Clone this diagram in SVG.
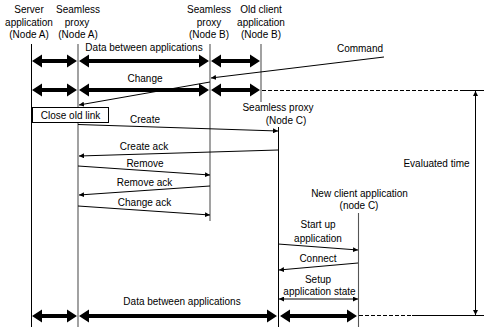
<svg xmlns="http://www.w3.org/2000/svg" width="484" height="327" viewBox="0 0 484 327">
<defs>
<style>
text{font-family:"Liberation Sans",Arial,sans-serif;font-size:10px;fill:#000;text-anchor:middle}
.ll{stroke:#000;stroke-width:1;fill:none}
.lg{stroke:#555;stroke-width:1.1;fill:none}
.msg{stroke:#000;stroke-width:1;fill:none;marker-end:url(#ah)}
.thick{fill:#000;stroke:none}
.dash{stroke:#000;stroke-width:1;stroke-dasharray:4,2;fill:none}
</style>
<marker id="ah" markerUnits="userSpaceOnUse" markerWidth="6" markerHeight="5" refX="5" refY="2.5" orient="auto-start-reverse">
<path d="M0,0 L5,2.5 L0,5 Z" fill="#000"/>
</marker>
</defs>
<rect width="484" height="327" fill="#fff"/>

<g id="server-a">
<text x="29" y="13">Server</text><text x="29" y="25.5">application</text><text x="29" y="38">(Node A)</text>
<line class="ll" x1="31.5" y1="44" x2="31.5" y2="327"/>
</g>
<g id="proxy-a">
<text x="78" y="13">Seamless</text><text x="77" y="25.5">proxy</text><text x="78" y="38">(Node A)</text>
<line class="lg" x1="78" y1="44" x2="78" y2="327"/>
</g>
<g id="proxy-b">
<text x="209" y="13">Seamless</text><text x="209" y="25.5">proxy</text><text x="209" y="38">(Node B)</text>
<line class="lg" x1="210" y1="44" x2="210" y2="221"/>
</g>
<g id="old-client-b">
<text x="261" y="13">Old client</text><text x="261" y="25.5">application</text><text x="261" y="38">(Node B)</text>
<line class="lg" x1="261" y1="44" x2="261" y2="102"/>
</g>
<g id="proxy-c">
<text x="278" y="111">Seamless proxy</text><text x="286" y="124">(Node C)</text>
<line class="ll" x1="278.5" y1="127" x2="278.5" y2="327"/>
</g>
<g id="new-client-c">
<text x="359.5" y="197">New client application</text><text x="359" y="209">(node C)</text>
<line class="lg" x1="358.5" y1="213" x2="358.5" y2="327"/>
</g>
<g id="close-old-link">
<rect x="32.5" y="107.5" width="76" height="15" fill="#fff" stroke="#000" stroke-width="1"/>
<text x="70.5" y="119">Close old link</text>
</g>
<g id="evaluated-time">
<text x="436.5" y="167">Evaluated time</text>
</g>

<g id="connectors">
<path class="thick" d="M32,61 L42,54.5 L42,59 L67,59 L67,54.5 L77,61 L67,67.5 L67,63 L42,63 L42,67.5 Z"/>
<path class="thick" d="M79,61 L89,54.5 L89,59 L199,59 L199,54.5 L209,61 L199,67.5 L199,63 L89,63 L89,67.5 Z"/>
<path class="thick" d="M211,61 L221,54.5 L221,59 L250,59 L250,54.5 L260,61 L250,67.5 L250,63 L221,63 L221,67.5 Z"/>
<path class="thick" d="M32,90 L42,83.5 L42,88 L67,88 L67,83.5 L77,90 L67,96.5 L67,92 L42,92 L42,96.5 Z"/>
<path class="thick" d="M79,90 L89,83.5 L89,88 L199,88 L199,83.5 L209,90 L199,96.5 L199,92 L89,92 L89,96.5 Z"/>
<path class="thick" d="M211,90 L221,83.5 L221,88 L250,88 L250,83.5 L260,90 L250,96.5 L250,92 L221,92 L221,96.5 Z"/>
<path class="thick" d="M32,316 L42,309.5 L42,314 L67,314 L67,309.5 L77,316 L67,322.5 L67,318 L42,318 L42,322.5 Z"/>
<path class="thick" d="M79,316 L89,309.5 L89,314 L267,314 L267,309.5 L277,316 L267,322.5 L267,318 L89,318 L89,322.5 Z"/>
<path class="thick" d="M280,316 L290,309.5 L290,314 L347,314 L347,309.5 L357,316 L347,322.5 L347,318 L290,318 L290,322.5 Z"/>
<line class="dash" x1="262" y1="90.5" x2="463" y2="90.5"/>
<line class="ll" x1="463" y1="90.5" x2="484" y2="90.5"/>
<line class="dash" x1="359" y1="315.5" x2="412" y2="315.5"/>
<line class="ll" x1="412" y1="315.5" x2="484" y2="315.5"/>
<line class="ll" x1="475.5" y1="91" x2="475.5" y2="315" marker-start="url(#ah)" marker-end="url(#ah)"/>
<text x="144" y="51">Data between applications</text>
<text x="182" y="305">Data between applications</text>

<line class="msg" x1="384" y1="57" x2="211" y2="78"/>
<text x="360" y="52">Command</text>
<line class="msg" x1="210" y1="82" x2="79" y2="105"/>
<text x="145" y="82">Change</text>
<line class="msg" x1="78" y1="124.5" x2="278" y2="131"/>
<text x="145" y="123">Create</text>
<line class="msg" x1="278" y1="150" x2="79" y2="156"/>
<text x="144" y="150">Create ack</text>
<line class="msg" x1="78" y1="166" x2="210" y2="175"/>
<text x="145" y="166.5">Remove</text>
<line class="msg" x1="210" y1="186" x2="79" y2="195"/>
<text x="144.5" y="186">Remove ack</text>
<line class="msg" x1="78" y1="206" x2="210" y2="215"/>
<text x="144.5" y="206">Change ack</text>
<line class="msg" x1="278" y1="244" x2="358" y2="250"/>
<text x="318" y="228">Start up</text><text x="318" y="242">application</text>
<line class="msg" x1="358" y1="263" x2="279" y2="270"/>
<text x="318" y="262">Connect</text>
<line class="msg" x1="279" y1="299" x2="358" y2="299" marker-start="url(#ah)"/>
<text x="318" y="283">Setup</text><text x="319.5" y="295">application state</text>
</g>
</svg>
